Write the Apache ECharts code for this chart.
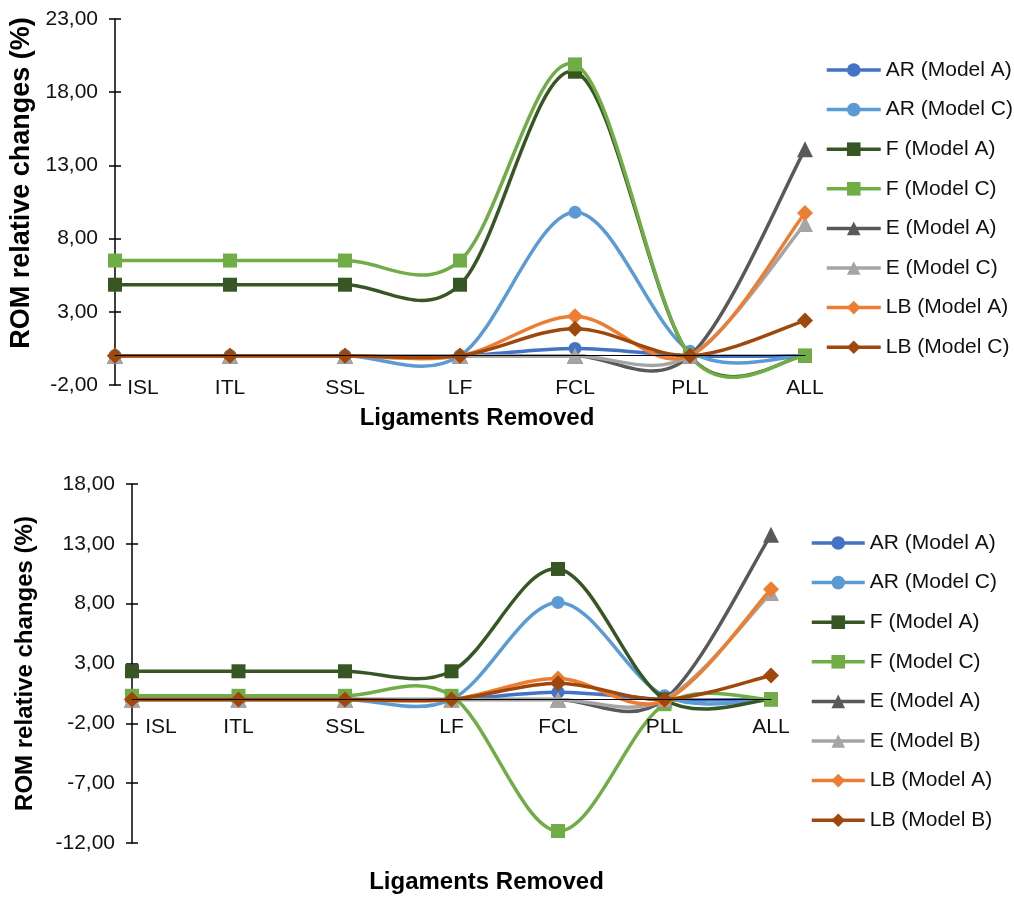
<!DOCTYPE html>
<html><head><meta charset="utf-8">
<script src="https://cdn.jsdelivr.net/npm/echarts@6/dist/echarts.min.js"></script>
<style>html,body{margin:0;padding:0;background:#fff}#c{width:1014px;height:897px}</style>
</head><body><div id="c"></div>
<script>
// ---------- data ----------
const categories = ['ISL', 'ITL', 'SSL', 'LF', 'FCL', 'PLL', 'ALL'];
const topTicks = [-2, 3, 8, 13, 18, 23];
const bottomTicks = [-12, -7, -2, 3, 8, 13, 18];
const topNames = ['AR (Model A)', 'AR (Model C)', 'F (Model A)', 'F (Model C)', 'E (Model A)', 'E (Model C)', 'LB (Model A)', 'LB (Model C)'];
const bottomNames = ['AR (Model A)', 'AR (Model C)', 'F (Model A)', 'F (Model C)', 'E (Model A)', 'E (Model B)', 'LB (Model A)', 'LB (Model B)'];

const arA_top = [0, 0, 0, 0, 0.5, 0, 0];
const arC_top = [0, 0, 0, 0, 9.8, 0.3, 0];
const fA_top  = [4.85, 4.85, 4.85, 4.85, 19.4, 0, 0];
const fC_top  = [6.5, 6.5, 6.5, 6.5, 19.9, 0, 0];
const eA_top  = [0, 0, 0, 0, 0, 0, 14.1];
const eC_top  = [0, 0, 0, 0, 0, 0, 9.0];
const lbA_top = [0, 0, 0, 0, 2.7, 0, 9.75];
const lbC_top = [0, 0, 0, 0, 1.85, 0, 2.4];

const arA_bot = [0, 0, 0, 0, 0.6, 0, 0];
const arC_bot = [0, 0, 0, 0, 8.1, 0.3, 0];
const fA_bot  = [2.35, 2.35, 2.35, 2.35, 10.9, 0, 0];
const fC_bot  = [0.3, 0.3, 0.3, 0.3, -11.0, -0.4, 0];
const eA_bot  = [0, 0, 0, 0, 0, 0, 13.75];
const eB_bot  = [0, 0, 0, 0, 0, 0, 8.9];
const lbA_bot = [0, 0, 0, 0, 1.75, -0.1, 9.2];
const lbB_bot = [0, 0, 0, 0, 1.35, 0, 2.0];

const topData = [arA_top, arC_top, fA_top, fC_top, eA_top, eC_top, lbA_top, lbC_top];
const bottomData = [arA_bot, arC_bot, fA_bot, fC_bot, eA_bot, eB_bot, lbA_bot, lbB_bot];

// ---------- styles ----------
const colors = ['#4472C4', '#5B9BD5', '#375623', '#70AD47', '#595959', '#A5A5A5', '#ED7D31', '#9E480E'];
const symbols = ['circle', 'circle', 'rect', 'rect', 'triangle', 'triangle', 'diamond', 'diamond'];
const symbolSizes = [13, 13, 14, 14, 16, 16, 16, 16];
const LW = 3.5;
const FONT = '"Liberation Sans", Arial, sans-serif';
const TXT = '#111';

function fmt(v) { return v.toFixed(2).replace('.', ','); }

// Excel-like smoothed line (Catmull-Rom style Bezier), drawn through the axes via api.coord
function splineSeries(vals, i, xi, yi) {
  const n = vals.length;
  return {
    type: 'custom', xAxisIndex: xi, yAxisIndex: yi, z: 2 + 2 * i, silent: true,
    data: vals.map((v, k) => [k, v]),
    encode: { x: 0, y: 1 },
    renderItem: function (params, api) {
      const k = params.dataIndex;
      if (k >= n - 1) return { type: 'group', children: [] };
      const P = idx => { const j = Math.max(0, Math.min(n - 1, idx)); return api.coord([j, vals[j]]); };
      const p0 = P(k - 1), p1 = P(k), p2 = P(k + 1), p3 = P(k + 2);
      const c1 = [p1[0] + (p2[0] - p0[0]) / 6, p1[1] + (p2[1] - p0[1]) / 6];
      const c2 = [p2[0] - (p3[0] - p1[0]) / 6, p2[1] - (p3[1] - p1[1]) / 6];
      return {
        type: 'bezierCurve',
        shape: { x1: p1[0], y1: p1[1], x2: p2[0], y2: p2[1], cpx1: c1[0], cpy1: c1[1], cpx2: c2[0], cpy2: c2[1] },
        style: { stroke: colors[i], lineWidth: LW, fill: null, lineCap: 'round' }
      };
    }
  };
}

function makeSeries(names, datas, xi, yi) {
  const out = [];
  names.forEach((n, i) => {
    out.push({
      name: n, type: 'line', xAxisIndex: xi, yAxisIndex: yi, z: 3 + 2 * i,
      data: datas[i], smooth: false,
      symbol: symbols[i], symbolSize: symbolSizes[i],
      lineStyle: { width: LW, color: colors[i], opacity: 0 },
      itemStyle: { color: colors[i] },
      emphasis: { disabled: true }
    });
    out.push(splineSeries(datas[i], i, xi, yi));
  });
  return out;
}

function xAxisCfg(gi, firstPad, margin, nameGap, namePadLeft) {
  return {
    type: 'category', gridIndex: gi, data: categories, boundaryGap: false, z: 50,
    axisLine: { onZero: true, lineStyle: { color: '#000', width: 1 } },
    axisTick: { show: false },
    axisLabel: {
      margin: margin, fontSize: 21, color: TXT, fontFamily: FONT, interval: 0,
      formatter: (v, idx) => idx === 0 ? '{f|' + v + '}' : v,
      rich: { f: { padding: [0, 0, 0, firstPad], fontSize: 21, color: TXT, fontFamily: FONT } }
    },
    name: 'Ligaments Removed', nameLocation: 'middle', nameGap: nameGap,
    nameTextStyle: { fontSize: 24, fontWeight: 'bold', color: '#000', fontFamily: FONT, padding: [0, 0, 0, namePadLeft] }
  };
}

function yAxisCfg(gi, ticks, nameGap, nameSize, namePad) {
  return {
    type: 'value', gridIndex: gi, min: ticks[0], max: ticks[ticks.length - 1],
    splitLine: { show: false },
    axisLine: { show: true, onZero: false, lineStyle: { color: '#000', width: 1.5 } },
    axisTick: { show: true, length: 6, customValues: ticks, lineStyle: { color: '#000', width: 1.5 } },
    axisLabel: { customValues: ticks, formatter: fmt, fontSize: 21, color: TXT, fontFamily: FONT, margin: 17 },
    name: 'ROM relative changes (%)', nameLocation: 'middle', nameGap: nameGap, nameRotate: 90,
    nameTextStyle: { fontSize: nameSize, fontWeight: 'bold', color: '#000', fontFamily: FONT, padding: namePad }
  };
}
function yTickAxis(gi, ticks) {
  return {
    type: 'value', gridIndex: gi, min: ticks[0], max: ticks[ticks.length - 1], position: 'left', offset: 0,
    splitLine: { show: false }, axisLine: { show: false },
    axisTick: { show: true, inside: true, length: 6, customValues: ticks, lineStyle: { color: '#000', width: 1.5 } },
    axisLabel: { show: false }
  };
}

function legendCfg(names, left, top, w) {
  return {
    orient: 'vertical', left: left, top: top, padding: 0, data: names,
    itemWidth: w, itemHeight: 17, itemGap: 17.6, selectedMode: false,
    lineStyle: { width: LW, opacity: 1 },
    textStyle: { fontSize: 21, color: TXT, fontFamily: FONT, lineHeight: 22 }
  };
}

const chart = echarts.init(document.getElementById('c'), null, { renderer: 'canvas' });
chart.setOption({
  animation: false,
  backgroundColor: '#fff',
  textStyle: { fontFamily: FONT },
  grid: [
    { left: 115, top: 19, width: 690, height: 366, outerBoundsMode: 'none', containLabel: false },
    { left: 132, top: 484, width: 639, height: 359, outerBoundsMode: 'none', containLabel: false }
  ],
  xAxis: [xAxisCfg(0, 56, -7, 21, 34), xAxisCfg(1, 58, -126, 27, 70)],
  yAxis: [
    yAxisCfg(0, topTicks, 76, 27, [0, 0, 0, 38]),
    yTickAxis(0, topTicks),
    yAxisCfg(1, bottomTicks, 95, 24, [0, 0, 0, 0]),
    yTickAxis(1, bottomTicks)
  ],
  legend: [legendCfg(topNames, 825, 59, 54), legendCfg(bottomNames, 810, 532, 53)],
  series: makeSeries(topNames, topData, 0, 0).concat(makeSeries(bottomNames, bottomData, 1, 2))
});
</script>
</body></html>
